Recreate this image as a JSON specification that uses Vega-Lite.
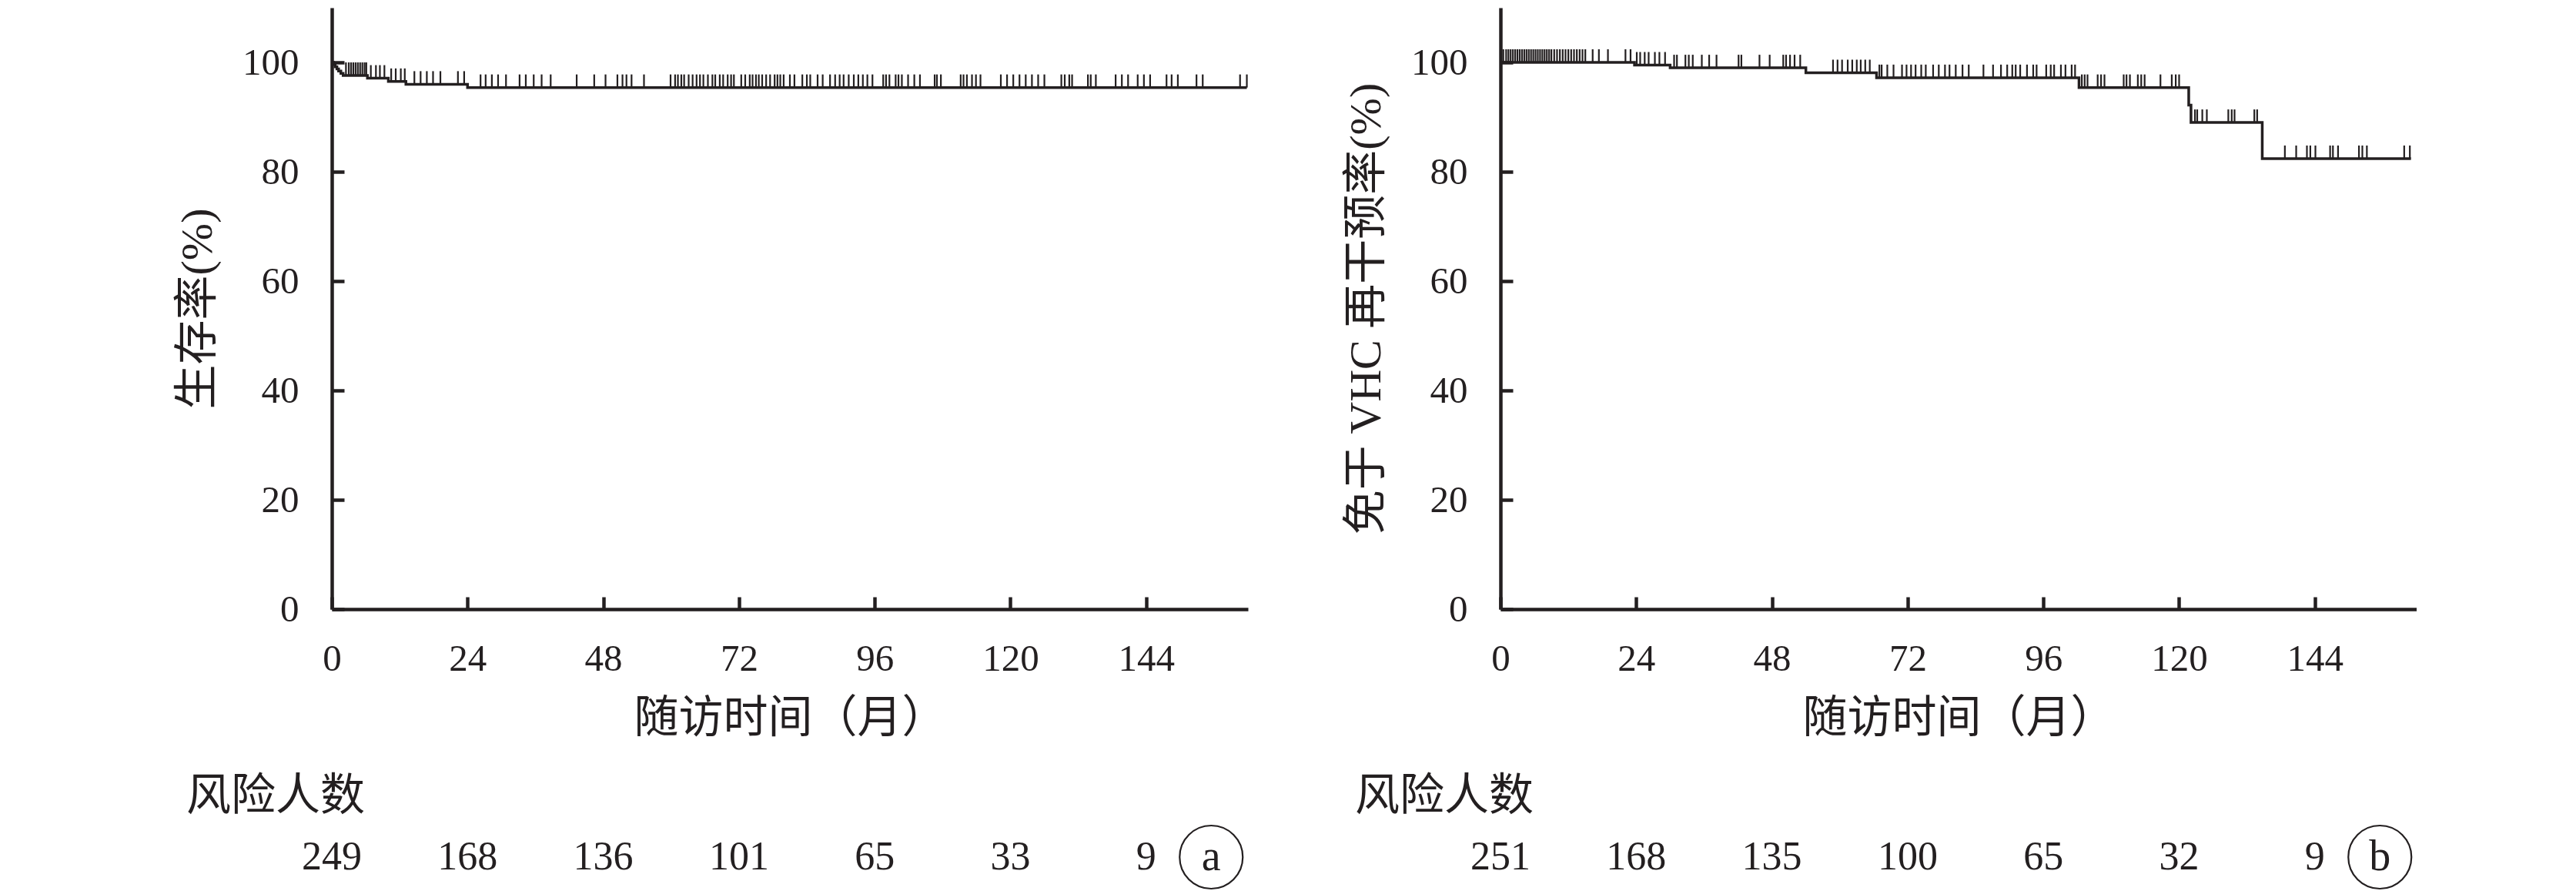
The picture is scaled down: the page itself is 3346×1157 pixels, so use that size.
{
  "$schema": "https://vega.github.io/schema/vega-lite/v6.json",
  "padding": {"left": 228, "top": 10, "right": 0, "bottom": 0},
  "background": "white",
  "config": {
    "view": {"stroke": null},
    "font": "Liberation Serif, Noto Sans CJK SC",
    "axis": {
      "grid": false,
      "domainColor": "#231f20",
      "domainWidth": 4.5,
      "tickColor": "#231f20",
      "tickWidth": 4.5,
      "tickSize": -16,
      "labelFont": "Liberation Serif",
      "labelFontSize": 49,
      "labelColor": "#231f20",
      "labelPadding": 59,
      "labelFlush": false,
      "labelOverlap": false,
      "titleFont": "Liberation Serif, Noto Sans CJK SC",
      "titleFontSize": 58,
      "titleFontWeight": "normal",
      "titleColor": "#231f20"
    },
    "axisX": {"labelPadding": 56, "titlePadding": 24},
    "axisY": {"titlePadding": 28},
    "title": {"font": "Noto Sans CJK SC", "fontSize": 58, "fontWeight": "normal", "color": "#231f20", "anchor": "start", "frame": "group"}
  },
  "datasets": {
    "curveA": [
      {"t": 0, "s": 100}, {"t": 0.3, "s": 99.6}, {"t": 0.6, "s": 99.2}, {"t": 0.9, "s": 98.8}, {"t": 1.2, "s": 98.4}, {"t": 1.6, "s": 98.0}, {"t": 2.0, "s": 97.6},
      {"t": 6.3, "s": 97.1}, {"t": 10.0, "s": 96.5}, {"t": 13.1, "s": 96.0}, {"t": 24.0, "s": 95.4}, {"t": 161.8, "s": 95.4}
    ],
    "censA": [
      {"t": 2.5, "s": 97.6}, {"t": 3.0, "s": 97.6}, {"t": 3.4, "s": 97.6}, {"t": 3.8, "s": 97.6}, {"t": 4.2, "s": 97.6}, {"t": 4.6, "s": 97.6}, {"t": 5.0, "s": 97.6}, {"t": 5.4, "s": 97.6}, {"t": 5.8, "s": 97.6}, {"t": 6.1, "s": 97.6},
      {"t": 6.9, "s": 97.1}, {"t": 7.8, "s": 97.1}, {"t": 8.5, "s": 97.1}, {"t": 9.3, "s": 97.1},
      {"t": 10.5, "s": 96.5}, {"t": 11.3, "s": 96.5}, {"t": 12.2, "s": 96.5}, {"t": 12.9, "s": 96.5},
      {"t": 14.6, "s": 96.0}, {"t": 15.7, "s": 96.0}, {"t": 16.8, "s": 96.0}, {"t": 17.9, "s": 96.0}, {"t": 19.2, "s": 96.0}, {"t": 22.3, "s": 96.0}, {"t": 23.4, "s": 96.0},
      {"t": 26.3, "s": 95.4}, {"t": 27.2, "s": 95.4}, {"t": 28.3, "s": 95.4}, {"t": 29.4, "s": 95.4}, {"t": 30.8, "s": 95.4}, {"t": 33.2, "s": 95.4}, {"t": 34.3, "s": 95.4}, {"t": 35.7, "s": 95.4}, {"t": 37.1, "s": 95.4}, {"t": 38.7, "s": 95.4},
      {"t": 43.3, "s": 95.4}, {"t": 46.4, "s": 95.4}, {"t": 48.4, "s": 95.4}, {"t": 50.5, "s": 95.4}, {"t": 51.4, "s": 95.4}, {"t": 52.1, "s": 95.4}, {"t": 53.0, "s": 95.4}, {"t": 55.2, "s": 95.4},
      {"t": 59.9, "s": 95.4}, {"t": 60.7, "s": 95.4}, {"t": 61.2, "s": 95.4}, {"t": 61.8, "s": 95.4}, {"t": 62.3, "s": 95.4}, {"t": 63.1, "s": 95.4}, {"t": 63.8, "s": 95.4}, {"t": 64.5, "s": 95.4}, {"t": 65.1, "s": 95.4}, {"t": 65.7, "s": 95.4},
      {"t": 66.5, "s": 95.4}, {"t": 67.3, "s": 95.4}, {"t": 67.8, "s": 95.4}, {"t": 68.6, "s": 95.4}, {"t": 69.2, "s": 95.4}, {"t": 70.0, "s": 95.4}, {"t": 70.6, "s": 95.4}, {"t": 71.1, "s": 95.4}, {"t": 72.4, "s": 95.4}, {"t": 73.1, "s": 95.4},
      {"t": 73.9, "s": 95.4}, {"t": 74.4, "s": 95.4}, {"t": 75.0, "s": 95.4}, {"t": 75.5, "s": 95.4}, {"t": 76.1, "s": 95.4}, {"t": 76.8, "s": 95.4}, {"t": 77.5, "s": 95.4}, {"t": 78.3, "s": 95.4}, {"t": 78.8, "s": 95.4}, {"t": 79.3, "s": 95.4},
      {"t": 79.9, "s": 95.4}, {"t": 81.0, "s": 95.4}, {"t": 81.8, "s": 95.4}, {"t": 83.2, "s": 95.4}, {"t": 84.0, "s": 95.4}, {"t": 84.6, "s": 95.4}, {"t": 85.9, "s": 95.4}, {"t": 86.8, "s": 95.4}, {"t": 88.1, "s": 95.4}, {"t": 89.0, "s": 95.4},
      {"t": 89.8, "s": 95.4}, {"t": 90.5, "s": 95.4}, {"t": 91.4, "s": 95.4}, {"t": 92.3, "s": 95.4}, {"t": 93.1, "s": 95.4}, {"t": 93.9, "s": 95.4}, {"t": 94.7, "s": 95.4}, {"t": 95.6, "s": 95.4}, {"t": 97.5, "s": 95.4}, {"t": 98.0, "s": 95.4},
      {"t": 98.6, "s": 95.4}, {"t": 99.7, "s": 95.4}, {"t": 100.2, "s": 95.4}, {"t": 100.8, "s": 95.4}, {"t": 101.9, "s": 95.4}, {"t": 103.0, "s": 95.4}, {"t": 104.0, "s": 95.4}, {"t": 106.6, "s": 95.4}, {"t": 107.0, "s": 95.4}, {"t": 107.7, "s": 95.4},
      {"t": 111.2, "s": 95.4}, {"t": 111.7, "s": 95.4}, {"t": 112.3, "s": 95.4}, {"t": 113.2, "s": 95.4}, {"t": 113.9, "s": 95.4}, {"t": 114.7, "s": 95.4}, {"t": 118.3, "s": 95.4}, {"t": 119.4, "s": 95.4}, {"t": 120.5, "s": 95.4}, {"t": 121.6, "s": 95.4},
      {"t": 122.7, "s": 95.4}, {"t": 123.8, "s": 95.4}, {"t": 124.9, "s": 95.4}, {"t": 126.0, "s": 95.4}, {"t": 129.0, "s": 95.4}, {"t": 129.6, "s": 95.4}, {"t": 130.4, "s": 95.4}, {"t": 130.9, "s": 95.4}, {"t": 133.7, "s": 95.4}, {"t": 134.2, "s": 95.4},
      {"t": 135.1, "s": 95.4}, {"t": 138.6, "s": 95.4}, {"t": 139.7, "s": 95.4}, {"t": 140.8, "s": 95.4}, {"t": 142.5, "s": 95.4}, {"t": 143.6, "s": 95.4}, {"t": 144.7, "s": 95.4}, {"t": 147.6, "s": 95.4}, {"t": 148.5, "s": 95.4}, {"t": 149.6, "s": 95.4},
      {"t": 152.9, "s": 95.4}, {"t": 154.0, "s": 95.4}, {"t": 160.6, "s": 95.4}, {"t": 161.8, "s": 95.4}
    ],
    "curveB": [
      {"t": 0, "s": 100}, {"t": 23.7, "s": 99.5}, {"t": 30.0, "s": 99.0}, {"t": 54.0, "s": 98.1}, {"t": 66.5, "s": 97.2}, {"t": 102.3, "s": 95.4},
      {"t": 121.7, "s": 92.2}, {"t": 122.1, "s": 89.0}, {"t": 134.7, "s": 82.4}, {"t": 161.0, "s": 82.4}
    ],
    "censB": [
      {"t": 0.5, "s": 100}, {"t": 1.0, "s": 100}, {"t": 1.4, "s": 100}, {"t": 1.8, "s": 100}, {"t": 2.2, "s": 100}, {"t": 2.6, "s": 100}, {"t": 3.0, "s": 100}, {"t": 3.4, "s": 100}, {"t": 3.8, "s": 100}, {"t": 4.2, "s": 100},
      {"t": 4.6, "s": 100}, {"t": 5.0, "s": 100}, {"t": 5.4, "s": 100}, {"t": 5.8, "s": 100}, {"t": 6.2, "s": 100}, {"t": 6.6, "s": 100}, {"t": 7.0, "s": 100}, {"t": 7.4, "s": 100}, {"t": 7.8, "s": 100}, {"t": 8.2, "s": 100},
      {"t": 8.6, "s": 100}, {"t": 9.0, "s": 100}, {"t": 9.5, "s": 100}, {"t": 10.0, "s": 100}, {"t": 10.5, "s": 100}, {"t": 11.0, "s": 100}, {"t": 11.5, "s": 100}, {"t": 12.0, "s": 100}, {"t": 12.5, "s": 100}, {"t": 13.0, "s": 100},
      {"t": 13.5, "s": 100}, {"t": 14.0, "s": 100}, {"t": 14.5, "s": 100}, {"t": 15.0, "s": 100}, {"t": 16.3, "s": 100}, {"t": 17.4, "s": 100}, {"t": 19.0, "s": 100}, {"t": 22.1, "s": 100}, {"t": 23.0, "s": 100},
      {"t": 24.1, "s": 99.5}, {"t": 24.7, "s": 99.5}, {"t": 25.5, "s": 99.5}, {"t": 26.2, "s": 99.5}, {"t": 27.3, "s": 99.5}, {"t": 28.1, "s": 99.5}, {"t": 29.1, "s": 99.5},
      {"t": 30.7, "s": 99.0}, {"t": 31.2, "s": 99.0}, {"t": 32.7, "s": 99.0}, {"t": 33.3, "s": 99.0}, {"t": 34.0, "s": 99.0}, {"t": 35.6, "s": 99.0}, {"t": 36.9, "s": 99.0}, {"t": 38.2, "s": 99.0}, {"t": 42.1, "s": 99.0},
      {"t": 42.6, "s": 99.0}, {"t": 45.8, "s": 99.0}, {"t": 47.6, "s": 99.0}, {"t": 50.0, "s": 99.0}, {"t": 50.5, "s": 99.0}, {"t": 51.2, "s": 99.0}, {"t": 52.0, "s": 99.0}, {"t": 53.0, "s": 99.0},
      {"t": 58.8, "s": 98.1}, {"t": 59.6, "s": 98.1}, {"t": 60.4, "s": 98.1}, {"t": 61.4, "s": 98.1}, {"t": 62.2, "s": 98.1}, {"t": 63.0, "s": 98.1}, {"t": 63.7, "s": 98.1}, {"t": 64.5, "s": 98.1}, {"t": 65.3, "s": 98.1},
      {"t": 67.0, "s": 97.2}, {"t": 67.4, "s": 97.2}, {"t": 68.4, "s": 97.2}, {"t": 69.5, "s": 97.2}, {"t": 71.0, "s": 97.2}, {"t": 71.8, "s": 97.2}, {"t": 72.6, "s": 97.2}, {"t": 73.4, "s": 97.2}, {"t": 74.4, "s": 97.2}, {"t": 75.2, "s": 97.2},
      {"t": 76.5, "s": 97.2}, {"t": 77.5, "s": 97.2}, {"t": 78.6, "s": 97.2}, {"t": 79.4, "s": 97.2}, {"t": 80.5, "s": 97.2}, {"t": 81.7, "s": 97.2}, {"t": 82.8, "s": 97.2}, {"t": 85.4, "s": 97.2}, {"t": 87.1, "s": 97.2}, {"t": 88.5, "s": 97.2},
      {"t": 89.6, "s": 97.2}, {"t": 90.5, "s": 97.2}, {"t": 91.1, "s": 97.2}, {"t": 91.9, "s": 97.2}, {"t": 93.1, "s": 97.2}, {"t": 94.2, "s": 97.2}, {"t": 94.8, "s": 97.2}, {"t": 96.5, "s": 97.2}, {"t": 97.3, "s": 97.2}, {"t": 97.9, "s": 97.2},
      {"t": 99.1, "s": 97.2}, {"t": 99.9, "s": 97.2}, {"t": 101.0, "s": 97.2}, {"t": 101.6, "s": 97.2},
      {"t": 102.8, "s": 95.4}, {"t": 103.3, "s": 95.4}, {"t": 103.8, "s": 95.4}, {"t": 105.6, "s": 95.4}, {"t": 106.2, "s": 95.4}, {"t": 106.8, "s": 95.4}, {"t": 110.2, "s": 95.4}, {"t": 110.7, "s": 95.4}, {"t": 111.3, "s": 95.4}, {"t": 112.7, "s": 95.4},
      {"t": 113.3, "s": 95.4}, {"t": 113.9, "s": 95.4}, {"t": 116.7, "s": 95.4}, {"t": 118.7, "s": 95.4}, {"t": 119.4, "s": 95.4}, {"t": 120.0, "s": 95.4},
      {"t": 122.8, "s": 89.0}, {"t": 123.2, "s": 89.0}, {"t": 124.1, "s": 89.0}, {"t": 124.9, "s": 89.0}, {"t": 128.7, "s": 89.0}, {"t": 129.3, "s": 89.0}, {"t": 129.8, "s": 89.0}, {"t": 133.3, "s": 89.0}, {"t": 133.8, "s": 89.0},
      {"t": 138.7, "s": 82.4}, {"t": 140.7, "s": 82.4}, {"t": 142.6, "s": 82.4}, {"t": 143.2, "s": 82.4}, {"t": 144.1, "s": 82.4}, {"t": 146.7, "s": 82.4}, {"t": 147.2, "s": 82.4}, {"t": 148.1, "s": 82.4}, {"t": 151.8, "s": 82.4}, {"t": 152.4, "s": 82.4},
      {"t": 153.2, "s": 82.4}, {"t": 159.8, "s": 82.4}, {"t": 160.8, "s": 82.4}
    ],
    "riskA": [
      {"t": 0, "n": 249}, {"t": 24, "n": 168}, {"t": 48, "n": 136}, {"t": 72, "n": 101}, {"t": 96, "n": 65}, {"t": 120, "n": 33}, {"t": 144, "n": 9}
    ],
    "riskB": [
      {"t": 0, "n": 251}, {"t": 24, "n": 168}, {"t": 48, "n": 135}, {"t": 72, "n": 100}, {"t": 96, "n": 65}, {"t": 120, "n": 32}, {"t": 144, "n": 9}
    ],
    "tagA": [{"t": 155.5, "label": "a"}],
    "tagB": [{"t": 155.5, "label": "b"}]
  },
  "hconcat": [
    {
      "spacing": 43,
      "vconcat": [
        {
          "width": 1190,
          "height": 781,
          "layer": [
            {
              "data": {"name": "curveA"},
              "mark": {"type": "line", "interpolate": "step-after", "color": "#231f20", "strokeWidth": 3.5},
              "encoding": {
                "x": {"field": "t", "type": "quantitative", "scale": {"domain": [0, 162], "nice": false}, "axis": {"values": [0, 24, 48, 72, 96, 120, 144], "title": "随访时间（月）"}},
                "y": {"field": "s", "type": "quantitative", "scale": {"domain": [0, 110], "nice": false}, "axis": {"values": [0, 20, 40, 60, 80, 100], "title": "生存率(%)"}}
              }
            },
            {
              "data": {"name": "censA"},
              "mark": {"type": "rule", "color": "#231f20", "strokeWidth": 2.2, "y2Offset": -17},
              "encoding": {
                "x": {"field": "t", "type": "quantitative"},
                "y": {"field": "s", "type": "quantitative"},
                "y2": {"field": "s"}
              }
            }
          ]
        },
        {
          "width": 1190,
          "height": 84,
          "title": {"text": "风险人数", "dx": -189, "offset": 4},
          "layer": [
            {
              "data": {"name": "riskA"},
              "mark": {"type": "text", "font": "Liberation Serif", "fontSize": 52, "color": "#231f20"},
              "encoding": {
                "x": {"field": "t", "type": "quantitative", "scale": {"domain": [0, 162], "nice": false}, "axis": null},
                "text": {"field": "n"}
              }
            },
            {
              "data": {"name": "tagA"},
              "mark": {"type": "point", "shape": "circle", "filled": false, "size": 6724, "strokeWidth": 2.2, "color": "#231f20", "opacity": 1},
              "encoding": {"x": {"field": "t", "type": "quantitative"}}
            },
            {
              "data": {"name": "tagA"},
              "mark": {"type": "text", "font": "Liberation Serif", "fontSize": 56, "color": "#231f20"},
              "encoding": {"x": {"field": "t", "type": "quantitative"}, "text": {"field": "label"}}
            }
          ]
        }
      ]
    },
    {
      "spacing": 43,
      "vconcat": [
        {
          "width": 1190,
          "height": 781,
          "layer": [
            {
              "data": {"name": "curveB"},
              "mark": {"type": "line", "interpolate": "step-after", "color": "#231f20", "strokeWidth": 3.5},
              "encoding": {
                "x": {"field": "t", "type": "quantitative", "scale": {"domain": [0, 162], "nice": false}, "axis": {"values": [0, 24, 48, 72, 96, 120, 144], "title": "随访时间（月）"}},
                "y": {"field": "s", "type": "quantitative", "scale": {"domain": [0, 110], "nice": false}, "axis": {"values": [0, 20, 40, 60, 80, 100], "title": "免于 VHC 再干预率(%)"}}
              }
            },
            {
              "data": {"name": "censB"},
              "mark": {"type": "rule", "color": "#231f20", "strokeWidth": 2.2, "y2Offset": -17},
              "encoding": {
                "x": {"field": "t", "type": "quantitative"},
                "y": {"field": "s", "type": "quantitative"},
                "y2": {"field": "s"}
              }
            }
          ]
        },
        {
          "width": 1190,
          "height": 84,
          "title": {"text": "风险人数", "dx": -189, "offset": 4},
          "layer": [
            {
              "data": {"name": "riskB"},
              "mark": {"type": "text", "font": "Liberation Serif", "fontSize": 52, "color": "#231f20"},
              "encoding": {
                "x": {"field": "t", "type": "quantitative", "scale": {"domain": [0, 162], "nice": false}, "axis": null},
                "text": {"field": "n"}
              }
            },
            {
              "data": {"name": "tagB"},
              "mark": {"type": "point", "shape": "circle", "filled": false, "size": 6724, "strokeWidth": 2.2, "color": "#231f20", "opacity": 1},
              "encoding": {"x": {"field": "t", "type": "quantitative"}}
            },
            {
              "data": {"name": "tagB"},
              "mark": {"type": "text", "font": "Liberation Serif", "fontSize": 56, "color": "#231f20"},
              "encoding": {"x": {"field": "t", "type": "quantitative"}, "text": {"field": "label"}}
            }
          ]
        }
      ]
    }
  ],
  "spacing": 119
}
